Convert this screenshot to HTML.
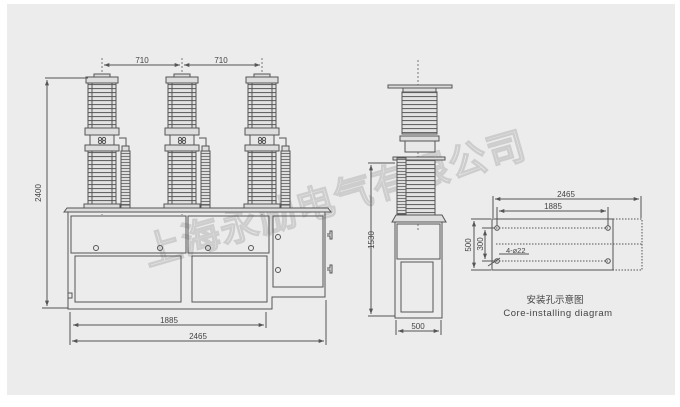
<!DOCTYPE html>
<html><head><meta charset="utf-8"><style>
html,body{margin:0;padding:0;background:#fff;width:680px;height:407px;overflow:hidden}
svg{display:block}
text{font-family:"Liberation Sans",sans-serif;fill:#444}
</style></head><body>
<svg width="680" height="407" viewBox="0 0 680 407" xmlns="http://www.w3.org/2000/svg">
<defs>
<marker id="a" viewBox="0 0 8 6" refX="8" refY="3" markerWidth="6" markerHeight="4" orient="auto-start-reverse"><path d="M0 0 L8 3 L0 6 Z" fill="#555"/></marker>
<pattern id="sh" width="4" height="4" patternUnits="userSpaceOnUse">
<rect width="4" height="4" fill="#e2e2e2"/><line x1="0" y1="0.5" x2="4" y2="0.5" stroke="#666" stroke-width="1.2"/>
</pattern>
<pattern id="cv" width="3" height="3" patternUnits="userSpaceOnUse">
<rect width="3" height="3" fill="#ddd"/><line x1="0" y1="0.5" x2="3" y2="0.5" stroke="#777" stroke-width="1"/>
</pattern>
<g id="ins" stroke="#555" stroke-width="1">
<line x1="0" y1="58" x2="0" y2="215" stroke="#777" stroke-dasharray="2,2"/>
<rect x="-8" y="74" width="16" height="3" fill="#ddd"/>
<rect x="-16" y="77" width="32" height="6" fill="#ddd"/>
<rect x="-14" y="83" width="28" height="45" fill="url(#sh)"/>
<line x1="-10" y1="83" x2="-10" y2="128"/><line x1="10" y1="83" x2="10" y2="128"/>
<rect x="-17" y="128" width="34" height="7" fill="#ddd"/>
<rect x="-12" y="135" width="24" height="10" fill="#e8e8e8"/>
<circle cx="-2" cy="139" r="1.6" fill="none"/><circle cx="2" cy="139" r="1.6" fill="none"/>
<circle cx="-2" cy="142" r="1.6" fill="none"/><circle cx="2" cy="142" r="1.6" fill="none"/>
<rect x="-17" y="145" width="34" height="6" fill="#ddd"/>
<rect x="-14" y="151" width="28" height="53" fill="url(#sh)"/>
<line x1="-10" y1="151" x2="-10" y2="204"/><line x1="10" y1="151" x2="10" y2="204"/>
<rect x="-18" y="204" width="36" height="8" fill="#ddd"/>
<path d="M17 138 H24 V150" fill="none"/>
<rect x="20" y="146" width="7" height="5" fill="#ddd"/>
<rect x="19" y="151" width="9" height="56" fill="url(#cv)"/>
<rect x="19" y="205" width="9" height="7" fill="#ddd"/>
</g>
</defs>
<rect x="7" y="4" width="668" height="391" fill="#ececec"/>

<!-- watermark -->
<g transform="translate(148,266) rotate(-16)">
<text x="0" y="0" font-size="38" textLength="395" lengthAdjust="spacing" font-family="'Noto Sans CJK SC',sans-serif" style="fill:#ececec;stroke:#cdcdcd;stroke-width:1.2;font-weight:bold">上海永励电气有限公司</text>
</g>

<!-- front view -->
<use href="#ins" x="102"/><use href="#ins" x="182"/><use href="#ins" x="262"/>
<g stroke="#555" fill="none" stroke-width="1">
<line x1="104" y1="65" x2="180" y2="65" marker-start="url(#a)" marker-end="url(#a)"/><line x1="184" y1="65" x2="260" y2="65" marker-start="url(#a)" marker-end="url(#a)"/>
<path d="M64 212 L67 208 H328 L331 212 Z" fill="#ddd"/>
<path d="M68 212 V309 H272 V297 H325 V212"/>
<rect x="71" y="216" width="115" height="37"/>
<rect x="188" y="216" width="81" height="37"/>
<rect x="75" y="256" width="106" height="46"/>
<rect x="192" y="256" width="75" height="46"/>
<rect x="273" y="216" width="50" height="71"/>
<circle cx="96" cy="248" r="2.5"/><circle cx="160" cy="248" r="2.5"/>
<circle cx="208" cy="248" r="2.5"/><circle cx="251" cy="248" r="2.5"/>
<circle cx="278" cy="237" r="2.5"/><circle cx="278" cy="270" r="2.5"/>
<rect x="68" y="293" width="4" height="5"/>
<path d="M327 234 h3 v-3 h2 v8 h-2 v-3 h-3"/><path d="M327 268 h3 v-3 h2 v8 h-2 v-3 h-3"/>
<line x1="45" y1="78" x2="88" y2="78"/><line x1="47" y1="80" x2="47" y2="306" marker-start="url(#a)" marker-end="url(#a)"/><line x1="42" y1="308" x2="68" y2="308"/>
<line x1="70" y1="312" x2="70" y2="345"/><line x1="266" y1="312" x2="266" y2="328"/><line x1="326" y1="300" x2="326" y2="345"/>
<line x1="73" y1="325" x2="264" y2="325" marker-start="url(#a)" marker-end="url(#a)"/><line x1="72" y1="341" x2="324" y2="341" marker-start="url(#a)" marker-end="url(#a)"/>
</g>
<text x="142" y="63" font-size="8" text-anchor="middle">710</text>
<text x="221" y="63" font-size="8" text-anchor="middle">710</text>
<text x="169" y="323" font-size="8" text-anchor="middle">1885</text>
<text x="198" y="339" font-size="8" text-anchor="middle">2465</text>
<text transform="translate(41,193) rotate(-90)" font-size="8" text-anchor="middle">2400</text>

<!-- side view -->
<g stroke="#555" fill="none" stroke-width="1">
<line x1="418" y1="60" x2="418" y2="230" stroke="#777" stroke-dasharray="2,2"/>
<rect x="388" y="85" width="64" height="3" fill="#ddd"/>
<rect x="403" y="88" width="33" height="4" fill="#ddd"/>
<rect x="402" y="92" width="35" height="42" fill="url(#sh)"/>
<rect x="400" y="136" width="39" height="5" fill="#ddd"/>
<rect x="405" y="141" width="30" height="11" fill="#e8e8e8"/>
<rect x="393" y="157" width="52" height="3" fill="#ddd"/>
<rect x="404" y="160" width="31" height="55" fill="url(#sh)"/>
<rect x="397" y="158" width="9" height="56" fill="url(#cv)"/>
<path d="M392 222 L396 215 H442 L446 222 Z" fill="#ddd"/>
<rect x="395" y="222" width="47" height="96"/>
<rect x="397" y="224" width="43" height="35"/>
<rect x="401" y="262" width="32" height="50"/>
<line x1="368" y1="163" x2="395" y2="163"/><line x1="371" y1="165" x2="371" y2="314" marker-start="url(#a)" marker-end="url(#a)"/><line x1="368" y1="316" x2="395" y2="316"/>
<line x1="396" y1="320" x2="396" y2="335"/><line x1="441" y1="320" x2="441" y2="335"/><line x1="398" y1="331" x2="439" y2="331" marker-start="url(#a)" marker-end="url(#a)"/>
</g>
<text transform="translate(374,240) rotate(-90)" font-size="8" text-anchor="middle">1530</text>
<text x="418" y="329" font-size="8" text-anchor="middle">500</text>

<!-- install diagram -->
<g stroke="#555" fill="none" stroke-width="1">
<rect x="492" y="219" width="121" height="51"/>
<path d="M613 219 H642 V270 H613" stroke-dasharray="1.5,1.5"/>
<line x1="496" y1="228" x2="608" y2="228" stroke-dasharray="1.5,1.5"/>
<line x1="496" y1="244" x2="642" y2="244" stroke-dasharray="1.5,1.5"/>
<line x1="496" y1="261" x2="608" y2="261" stroke-dasharray="1.5,1.5"/>
<circle cx="497" cy="228" r="2.3"/><circle cx="608" cy="228" r="2.3"/>
<circle cx="497" cy="261" r="2.3"/><circle cx="608" cy="261" r="2.3"/>
<line x1="493" y1="196" x2="493" y2="218"/><line x1="641" y1="196" x2="641" y2="218"/>
<line x1="495" y1="199" x2="639" y2="199" marker-start="url(#a)" marker-end="url(#a)"/>
<line x1="497" y1="207" x2="497" y2="226"/><line x1="608" y1="207" x2="608" y2="226"/>
<line x1="499" y1="211" x2="606" y2="211" marker-start="url(#a)" marker-end="url(#a)"/>
<line x1="471" y1="219" x2="491" y2="219"/><line x1="471" y1="270" x2="491" y2="270"/><line x1="474" y1="221" x2="474" y2="268" marker-start="url(#a)" marker-end="url(#a)"/>
<line x1="482" y1="228" x2="495" y2="228"/><line x1="482" y1="261" x2="495" y2="261"/><line x1="485" y1="230" x2="485" y2="259" marker-start="url(#a)" marker-end="url(#a)"/>
<line x1="488" y1="266" x2="500" y2="258"/><line x1="499" y1="254" x2="529" y2="254"/>
</g>
<text x="566" y="197" font-size="8" text-anchor="middle">2465</text>
<text x="553" y="209" font-size="8" text-anchor="middle">1885</text>
<text transform="translate(471,245) rotate(-90)" font-size="8" text-anchor="middle">500</text>
<text transform="translate(483,244) rotate(-90)" font-size="8" text-anchor="middle">300</text>
<text x="506" y="253" font-size="7.5">4-⌀22</text>
<text x="555" y="303" font-size="9.5" text-anchor="middle" font-family="'Liberation Sans','Noto Sans CJK SC',sans-serif">安装孔示意图</text>
<text x="558" y="316" font-size="9.5" text-anchor="middle" letter-spacing="0.5">Core-installing diagram</text>
</svg>
</body></html>
